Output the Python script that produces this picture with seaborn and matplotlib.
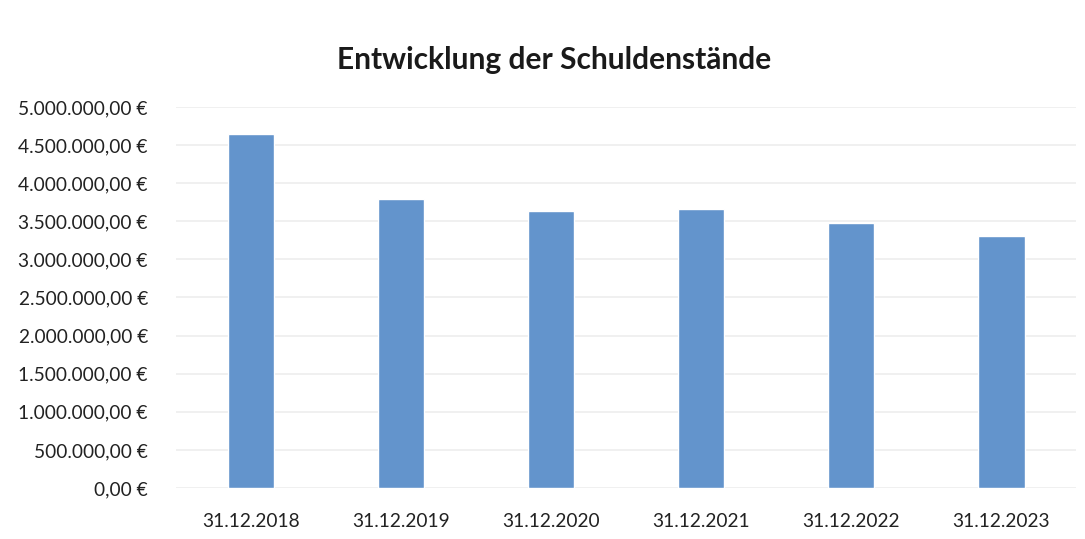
import pandas as pd
import matplotlib
matplotlib.use('Agg')
import matplotlib.pyplot as plt
import seaborn as sns
from matplotlib.ticker import FuncFormatter, MultipleLocator

# --- Data ---
dates = ['31.12.2018', '31.12.2019', '31.12.2020', '31.12.2021', '31.12.2022', '31.12.2023']
schulden = [4640000, 3790000, 3635000, 3657000, 3480000, 3307000]

df = pd.DataFrame({'Stichtag': dates, 'Schuldenstand': schulden})

sns.set_theme(style='white')
plt.rcParams['font.family'] = ['Lato', 'DejaVu Sans']

fig = plt.figure(figsize=(10.85, 5.39), dpi=100)
ax = fig.add_axes([0.162, 0.0946, 0.830, 0.707])

sns.barplot(data=df, x='Stichtag', y='Schuldenstand', color='#6394CC',
            width=0.31, saturation=1, ax=ax)

def euro(v, pos):
    s = f'{v:,.2f}'.replace(',', 'X').replace('.', ',').replace('X', '.')
    return s + ' €'

ax.set_ylim(0, 5000000)
ax.set_xlim(-0.5, 5.5)
ax.yaxis.set_major_locator(MultipleLocator(500000))
ax.yaxis.set_major_formatter(FuncFormatter(euro))
ax.grid(axis='y', color='#eeeeee', linewidth=1.2)
ax.set_axisbelow(True)
for side in ['top', 'right', 'left', 'bottom']:
    ax.spines[side].set_visible(False)
ax.tick_params(axis='both', length=0, labelsize=13.8, colors='#222222')
ax.tick_params(axis='y', pad=20)
ax.tick_params(axis='x', pad=18)
ax.set_xlabel('')
ax.set_ylabel('')

fig.text(0.511, 0.888, 'Entwicklung der Schuldenstände', ha='center', va='center',
         fontsize=21.5, fontweight='bold', color='#1a1a1a')

fig.savefig('out.png', dpi=100, facecolor='white')
